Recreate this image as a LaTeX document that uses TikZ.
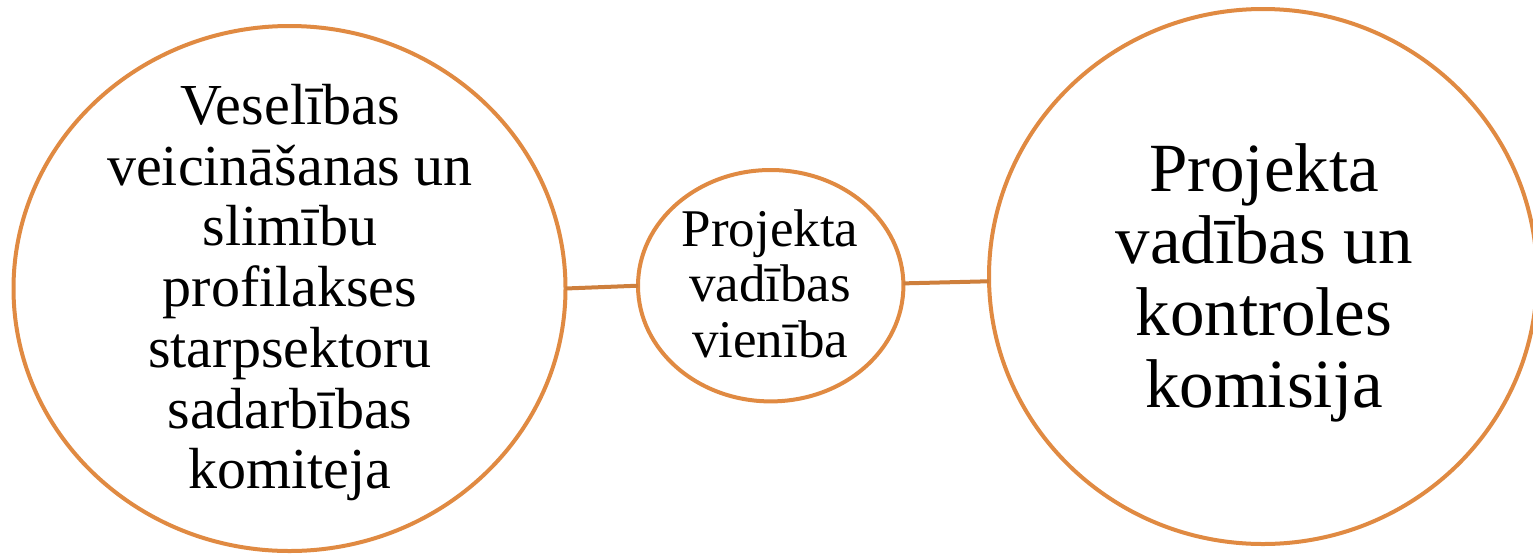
\documentclass[tikz,border=0pt]{standalone}
\usepackage{fontspec}
\setmainfont{Liberation Serif}
\usetikzlibrary{shapes.geometric}
\definecolor{ring}{RGB}{224,138,66}
\definecolor{link}{RGB}{206,127,60}
\tikzset{
  ringnode/.style={ellipse, draw=ring, line width=4pt, inner sep=0pt, outer sep=0pt, fill=white},
  txt/.style={inner sep=0pt, align=center, text=black},
  linkline/.style={draw=link, line width=4pt}
}
\begin{document}
\begin{tikzpicture}[x=1pt,y=-1pt]
\useasboundingbox (0,0) rectangle (1533,555);
\node[ringnode, minimum width=552pt, minimum height=525pt] (L) at (289.5,288.5) {};
\node[ringnode, minimum width=265.4pt, minimum height=231.4pt] (M) at (770.7,285.7) {};
\node[ringnode, minimum width=548pt, minimum height=535pt] (R) at (1263,276.5) {};
\draw[linkline] (L.0.4) -- (M.180.5);
\draw[linkline] (M.1) -- (R.181);
\node[txt, font=\fontsize{58}{60.7}\selectfont] (Lt) at (290,292.7)
  {Veselības\\veicināšanas un\\slimību\\profilakses\\starpsektoru\\sadarbības\\komiteja};
\node[txt, font=\fontsize{53}{55.5}\selectfont] (Mt) at (770,283.4)
  {Projekta\\vadības\\vienība};
\node[txt, font=\fontsize{69}{71.8}\selectfont] (Rt) at (1264,282.7)
  {Projekta\\vadības un\\kontroles\\komisija};
\end{tikzpicture}
\end{document}
